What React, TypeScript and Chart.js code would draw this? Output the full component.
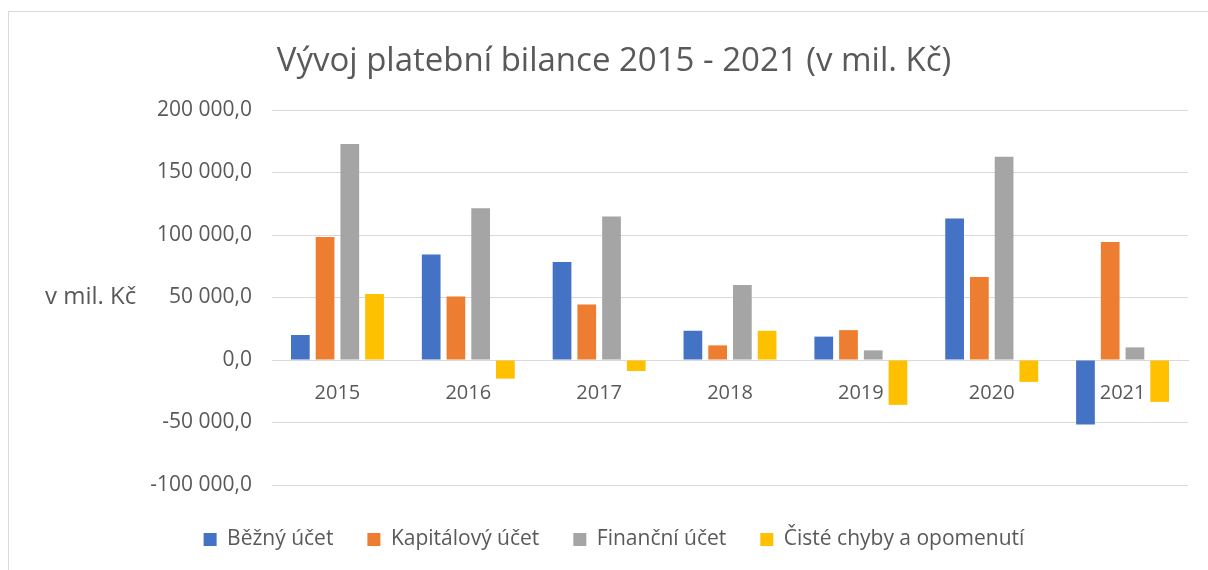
import React, { useEffect, useRef } from "react";
import { Chart, registerables } from "chart.js";

Chart.register(...registerables);

const categories = ["2015", "2016", "2017", "2018", "2019", "2020", "2021"];
const seriesNames = ["Běžný účet", "Kapitálový účet", "Finanční účet", "Čisté chyby a opomenutí"];
const bezny = [20000, 84500, 78500, 23400, 18700, 113200, -51500];
const kapitalovy = [98400, 50800, 44400, 11700, 23900, 66500, 94400];
const financni = [172800, 121500, 114800, 60100, 7700, 162700, 10100];
const ciste = [52900, -14900, -8800, 23400, -35900, -17500, -33500];
const colors = ["#4472C4", "#ED7D31", "#A5A5A5", "#FFC000"];
const titleText = "Vývoj platební bilance 2015 - 2021 (v mil. Kč)";
const yTitleText = "v mil. Kč";
const yMin = -100000;
const yMax = 200000;
const yStep = 50000;

const TEXT = "#595959";
const GRID = "#d9d9d9";
const FONT = "'Open Sans', sans-serif";

function fmt(v: number): string {
  const neg = v < 0;
  const s = Math.abs(Math.round(v)).toString().replace(/\B(?=(\d{3})+(?!\d))/g, " ");
  return (neg ? "-" : "") + s + ",0";
}

const yTitlePlugin = {
  id: "yTitlePlugin",
  afterDraw(chart: any) {
    const { ctx, chartArea } = chart;
    ctx.save();
    ctx.font = `24px ${FONT}`;
    ctx.fillStyle = TEXT;
    ctx.textAlign = "left";
    ctx.textBaseline = "middle";
    ctx.fillText(yTitleText, 45, (chartArea.top + chartArea.bottom) / 2);
    ctx.restore();
  },
};

export default function App() {
  const ref = useRef<HTMLCanvasElement | null>(null);
  useEffect(() => {
    if (!ref.current) return;
    Chart.defaults.font.family = FONT;
    const all = [bezny, kapitalovy, financni, ciste];
    const chart = new Chart(ref.current, {
      type: "bar",
      data: {
        labels: categories,
        datasets: all.map((d, i) => ({
          label: seriesNames[i],
          data: d,
          backgroundColor: colors[i],
          borderWidth: 0,
          categoryPercentage: 0.756,
          barPercentage: 0.757,
        })),
      },
      options: {
        animation: false,
        responsive: false,
        maintainAspectRatio: false,
        layout: { padding: { left: 40, right: 20, top: 12, bottom: 10 } },
        plugins: {
          title: {
            display: true,
            text: titleText,
            color: TEXT,
            font: { family: FONT, size: 33, weight: "normal" as any },
            padding: { top: 30, bottom: 28.4 },
          },
          legend: {
            position: "bottom",
            title: { display: true, text: "", font: { size: 10, lineHeight: 1 }, padding: 0 },
            labels: {
              boxWidth: 13,
              boxHeight: 13,
              padding: 34,
              color: TEXT,
              font: { family: FONT, size: 21 },
            },
          },
          tooltip: { enabled: false },
        },
        scales: {
          x: {
            position: { y: 0 } as any,
            grid: { display: false, drawTicks: false },
            border: { display: true, color: GRID },
            ticks: { color: TEXT, font: { family: FONT, size: 20 }, padding: 21 },
          },
          y: {
            min: yMin,
            max: yMax,
            afterFit: (scale: any) => {
              scale.width = 232;
            },
            grid: { color: GRID, drawTicks: false },
            border: { display: false },
            ticks: {
              stepSize: yStep,
              color: TEXT,
              font: { family: FONT, size: 21 },
              padding: 20,
              callback: (v: any) => fmt(Number(v)),
            },
          },
        },
      },
      plugins: [yTitlePlugin],
    });
    return () => chart.destroy();
  }, []);

  return (
    <div style={{ position: "fixed", left: 0, top: 0, width: 1208, height: 570, background: "#fff" }}>
      <div
        style={{
          position: "absolute",
          left: 8,
          top: 11,
          width: 1200,
          height: 559,
          borderTop: `1px solid ${GRID}`,
          borderLeft: `1px solid ${GRID}`,
        }}
      />
      <canvas ref={ref} width={1208} height={570} style={{ position: "absolute", left: 0, top: 0 }} />
    </div>
  );
}
